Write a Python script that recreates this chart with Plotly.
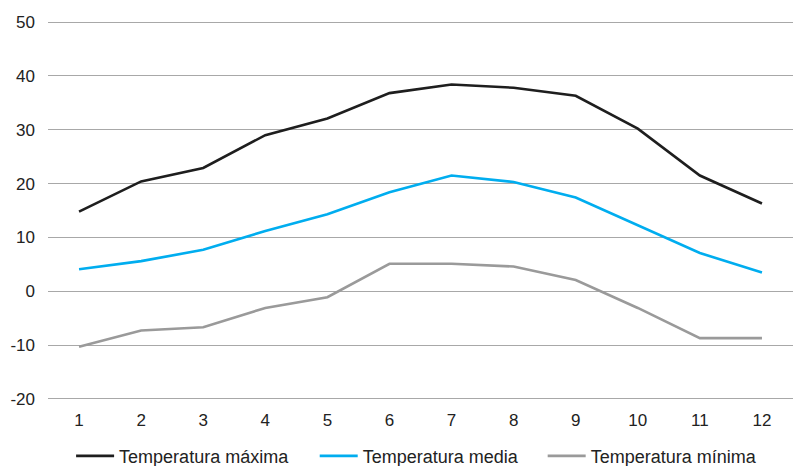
import plotly.graph_objects as go

meses = list(range(1, 13))
temp_max = [14.8, 20.4, 22.9, 29.0, 32.1, 36.8, 38.4, 37.8, 36.3, 30.2, 21.5, 16.3]
temp_media = [4.1, 5.6, 7.7, 11.2, 14.3, 18.4, 21.5, 20.3, 17.4, 12.3, 7.1, 3.5]
temp_min = [-10.3, -7.3, -6.7, -3.1, -1.1, 5.1, 5.1, 4.6, 2.1, -3.1, -8.7, -8.7]
y_ticks = [-20, -10, 0, 10, 20, 30, 40, 50]

series = [
    ("Temperatura máxima", temp_max, "#1e1e1e", "legend", 0.031),
    ("Temperatura media", temp_media, "#00adef", "legend2", 0.358),
    ("Temperatura mínima", temp_min, "#9a9a9a", "legend3", 0.664),
]

font_family = "Liberation Sans, Arial, sans-serif"
fig = go.Figure()
legend_layouts = {}
for name, vals, color, leg, lx in series:
    fig.add_trace(go.Scatter(x=meses, y=vals, mode="lines", name=name,
                             line=dict(color=color, width=2.6), legend=leg))
    legend_layouts[leg] = dict(orientation="h", x=lx, xanchor="left",
                               yref="container", y=0.021, yanchor="middle",
                               itemwidth=38,
                               font=dict(size=18, color="#222222"),
                               bgcolor="rgba(0,0,0,0)")

fig.update_layout(
    width=794, height=466,
    margin=dict(l=48, r=1, t=21, b=66),
    paper_bgcolor="white", plot_bgcolor="white",
    font=dict(family=font_family, size=17, color="#222222"),
    showlegend=True,
    **legend_layouts,
    xaxis=dict(range=[0.5, 12.5], tickmode="array", tickvals=meses,
               ticktext=[str(m) for m in meses], showgrid=False, zeroline=False,
               showline=False, ticks="", ticklabelstandoff=8, automargin=False),
    yaxis=dict(range=[-20.2, 50.2], tickmode="array", tickvals=y_ticks,
               ticktext=[str(v) for v in y_ticks],
               showgrid=True, gridcolor="#a8a8a8", gridwidth=1, zeroline=False,
               showline=False, ticks="", ticklabelstandoff=12, automargin=False),
)
fig.write_html("out.html")
